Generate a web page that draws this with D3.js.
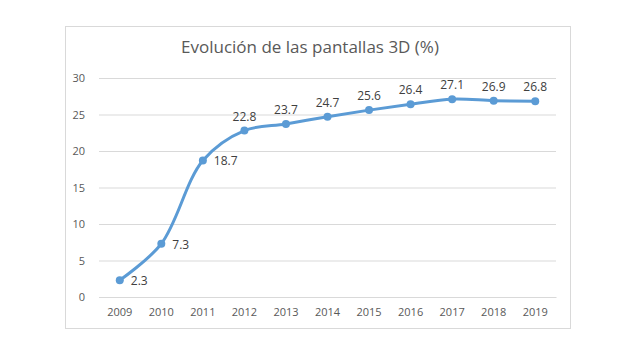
<!DOCTYPE html>
<html><head><meta charset="utf-8">
<script src="https://cdn.jsdelivr.net/npm/d3@7"></script>
<style>body{margin:0;background:#fff;}svg text{font-family:"Open Sans","Liberation Sans",sans-serif;}</style>
</head><body><svg id="c" width="638" height="348"></svg>
<script>
const years = ["2009","2010","2011","2012","2013","2014","2015","2016","2017","2018","2019"];
const values = [2.3,7.3,18.7,22.8,23.7,24.7,25.6,26.4,27.1,26.9,26.8];
const yTicks = [0,5,10,15,20,25,30];
const title = "Evolución de las pantallas 3D (%)";

const svg = d3.select("#c");
const box = {x:65, y:26, w:505, h:302};
svg.append("rect").attr("x",box.x+0.5).attr("y",box.y+0.5).attr("width",box.w).attr("height",box.h)
  .attr("fill","#fff").attr("stroke","#d9d9d9");

const m = {l:99, r:556, t:78, b:297};
const x = d3.scaleBand().domain(years).range([m.l, m.r]);
const y = d3.scaleLinear().domain([0,30]).range([m.b, m.t]);

svg.append("text").attr("x",310).attr("y",53).attr("text-anchor","middle")
  .attr("font-size",17).attr("fill","#595959").text(title);

const gy = svg.append("g").attr("transform",`translate(${m.l},0)`)
  .call(d3.axisLeft(y).tickValues(yTicks).tickSize(-(m.r-m.l)).tickPadding(14));
gy.select(".domain").remove();
gy.selectAll(".tick line").attr("stroke","#d9d9d9");
gy.selectAll(".tick text").attr("fill","#595959").attr("font-size",11).attr("font-family","'Open Sans','Liberation Sans',sans-serif");

const gx = svg.append("g").attr("transform",`translate(0,${m.b})`)
  .call(d3.axisBottom(x).tickSize(0).tickPadding(11));
gx.select(".domain").attr("stroke","#d9d9d9");
gx.selectAll(".tick text").attr("fill","#595959").attr("font-size",11).attr("font-family","'Open Sans','Liberation Sans',sans-serif");

const cx = d => x(d) + x.bandwidth()/2;
const data = years.map((yr,i)=>({yr, v:values[i], i}));
const line = d3.line().x(d=>cx(d.yr)).y(d=>y(d.v)).curve(d3.curveCatmullRom.alpha(0.5));
svg.append("path").datum(data).attr("d",line).attr("fill","none")
  .attr("stroke","#5B9BD5").attr("stroke-width",3).attr("stroke-linecap","round");
svg.selectAll("circle.pt").data(data).join("circle").attr("class","pt")
  .attr("cx",d=>cx(d.yr)).attr("cy",d=>y(d.v)).attr("r",4).attr("fill","#5B9BD5");

svg.selectAll("text.lbl").data(data).join("text").attr("class","lbl")
  .attr("x",d=> d.i<3 ? cx(d.yr)+11 : cx(d.yr))
  .attr("y",d=> d.i<3 ? y(d.v)+5 : y(d.v)-10)
  .attr("text-anchor",d=> d.i<3 ? "start" : "middle")
  .attr("font-size",12).attr("fill","#404040").text(d=>d.v.toFixed(1));
</script></body></html>
